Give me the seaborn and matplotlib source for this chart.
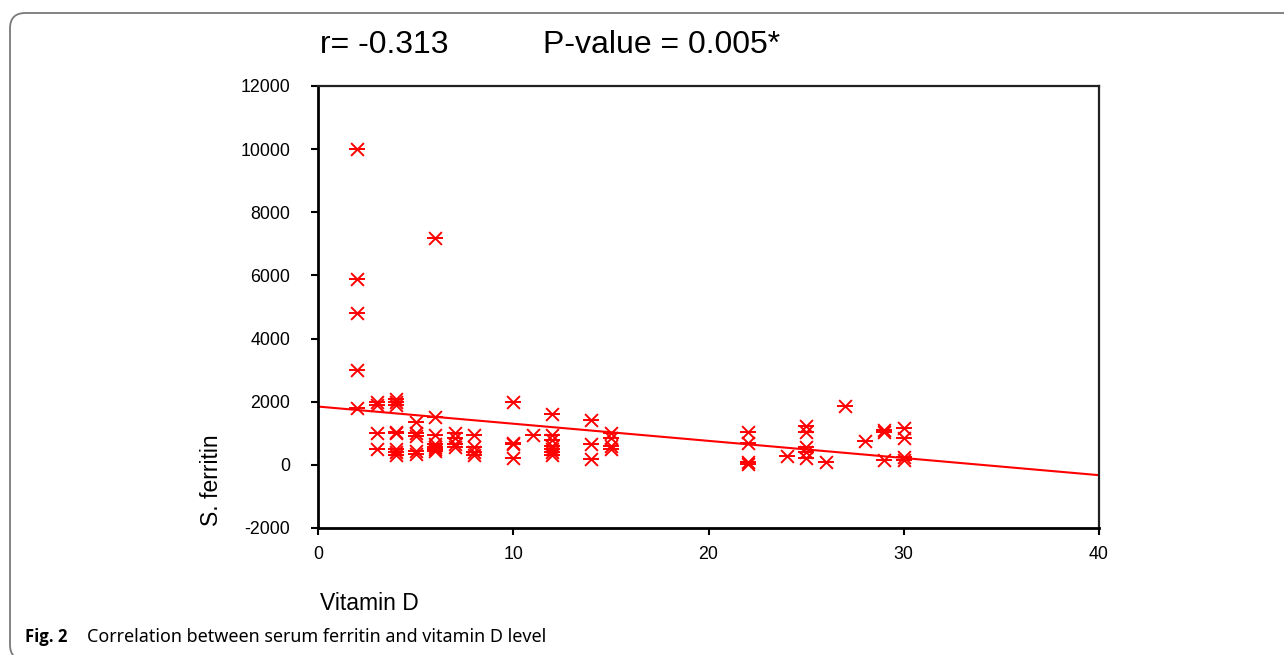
import numpy as np
import pandas as pd
import matplotlib
matplotlib.use("Agg")
import matplotlib.pyplot as plt
from matplotlib.patches import FancyBboxPatch
import seaborn as sns

# ---- data ----
vitamin_d = [2, 2, 2, 2, 2,
             3, 3, 3, 3,
             4, 4, 4, 4, 4, 4, 4, 4,
             5, 5, 5, 5, 5,
             6, 6, 6, 6, 6, 6, 6,
             7, 7, 7, 7,
             8, 8, 8, 8,
             10, 10, 10, 10,
             11,
             12, 12, 12, 12, 12, 12, 12,
             14, 14, 14,
             15, 15, 15, 15,
             22, 22, 22, 22,
             24,
             25, 25, 25, 25, 25,
             26,
             27,
             28,
             29, 29, 29,
             30, 30, 30, 30]
ferritin = [10000, 5880, 4800, 3000, 1800,
            2000, 1900, 1000, 500,
            2100, 2000, 1900, 1050, 1000, 500, 400, 300,
            1350, 1000, 900, 450, 350,
            7200, 1500, 950, 650, 550, 500, 450,
            1000, 850, 650, 550,
            950, 550, 400, 300,
            2000, 700, 650, 220,
            950,
            1600, 950, 800, 600, 500, 400, 300,
            1420, 650, 180,
            1000, 850, 600, 500,
            1050, 700, 100, 20,
            280,
            1230, 1050, 550, 400, 230,
            90,
            1850,
            760,
            1100, 1050, 140,
            1180, 840, 240, 150]
x_ticks = [0, 10, 20, 30, 40]
y_ticks = [-2000, 0, 2000, 4000, 6000, 8000, 10000, 12000]
r_text = "r= -0.313"
p_text = "P-value = 0.005*"
x_label = "Vitamin D"
y_label = "S. ferritin"
caption_bold = "Fig. 2"
caption_text = "Correlation between serum ferritin and vitamin D level"

df = pd.DataFrame({"Vitamin D": vitamin_d, "S. ferritin": ferritin})

sns.set_theme(style="ticks")
plt.rcParams["font.family"] = ["Liberation Sans", "DejaVu Sans"]
plt.rcParams["text.color"] = "black"

fig = plt.figure(figsize=(12.84, 6.55), dpi=100)
fig.patch.set_facecolor("white")

# rounded frame around the figure
frame = FancyBboxPatch((10 / 1284, 1 - 660 / 655), 1300 / 1284, 647 / 655,
                       boxstyle="round,pad=0,rounding_size=0.012",
                       transform=fig.transFigure, fill=False,
                       edgecolor="#7a7a7a", linewidth=1.3, zorder=0,
                       mutation_aspect=1284 / 655)
fig.patches.append(frame)

ax = fig.add_axes([318 / 1284, 1 - 528 / 655, 781 / 1284, 442 / 655])
ax.set_facecolor("white")
ax.set_xlim(0, 40)
ax.set_ylim(-2000, 12000)

sns.regplot(data=df, x="Vitamin D", y="S. ferritin", ax=ax, scatter=False,
            ci=None, truncate=False, color="#ff0000",
            line_kws={"linewidth": 1.5, "zorder": 2})
# asterisk marker = "x" + "_"
sns.scatterplot(data=df, x="Vitamin D", y="S. ferritin", ax=ax,
                marker="x", s=85, color="#ff0000", linewidth=1.4, zorder=3)
sns.scatterplot(data=df, x="Vitamin D", y="S. ferritin", ax=ax,
                marker="_", s=130, color="#ff0000", linewidth=1.4, zorder=3)
ax.set_xlim(0, 40)
ax.set_ylim(-2000, 12000)

ax.set_xticks(x_ticks)
ax.set_yticks(y_ticks)
ax.set_xticklabels([str(t) for t in x_ticks])
ax.set_yticklabels([str(t) for t in y_ticks])
ax.tick_params(axis="y", direction="out", length=5, width=1.5, pad=15,
               labelsize=12.8, colors="black")
ax.tick_params(axis="x", direction="out", length=5, width=1.5, pad=8,
               labelsize=12.8, colors="black")
ax.set_xlabel("")
ax.set_ylabel("")
for side in ["left", "bottom"]:
    ax.spines[side].set_linewidth(2.0)
    ax.spines[side].set_color("black")
for side in ["top", "right"]:
    ax.spines[side].set_visible(True)
    ax.spines[side].set_linewidth(1.6)
    ax.spines[side].set_color("#222222")

fig.text(320 / 1284, 1 - 45 / 655, r_text, fontsize=23, va="center", ha="left")
fig.text(543 / 1284, 1 - 45 / 655, p_text, fontsize=23, va="center", ha="left")
fig.text(320 / 1284, 1 - 604 / 655, x_label, fontsize=16.5, va="center", ha="left")
fig.text(211 / 1284, 1 - 480 / 655, y_label, fontsize=16.5, va="center",
         ha="center", rotation=90)

fig.text(25 / 1284, 1 - 637 / 655, caption_bold, fontsize=12, va="center",
         ha="left", fontweight="bold", family=["Open Sans", "DejaVu Sans"])
fig.text(87 / 1284, 1 - 637 / 655, caption_text, fontsize=12.9, va="center",
         ha="left", family=["Noto Sans", "DejaVu Sans"])

fig.savefig("out.png", dpi=100, facecolor="white")
